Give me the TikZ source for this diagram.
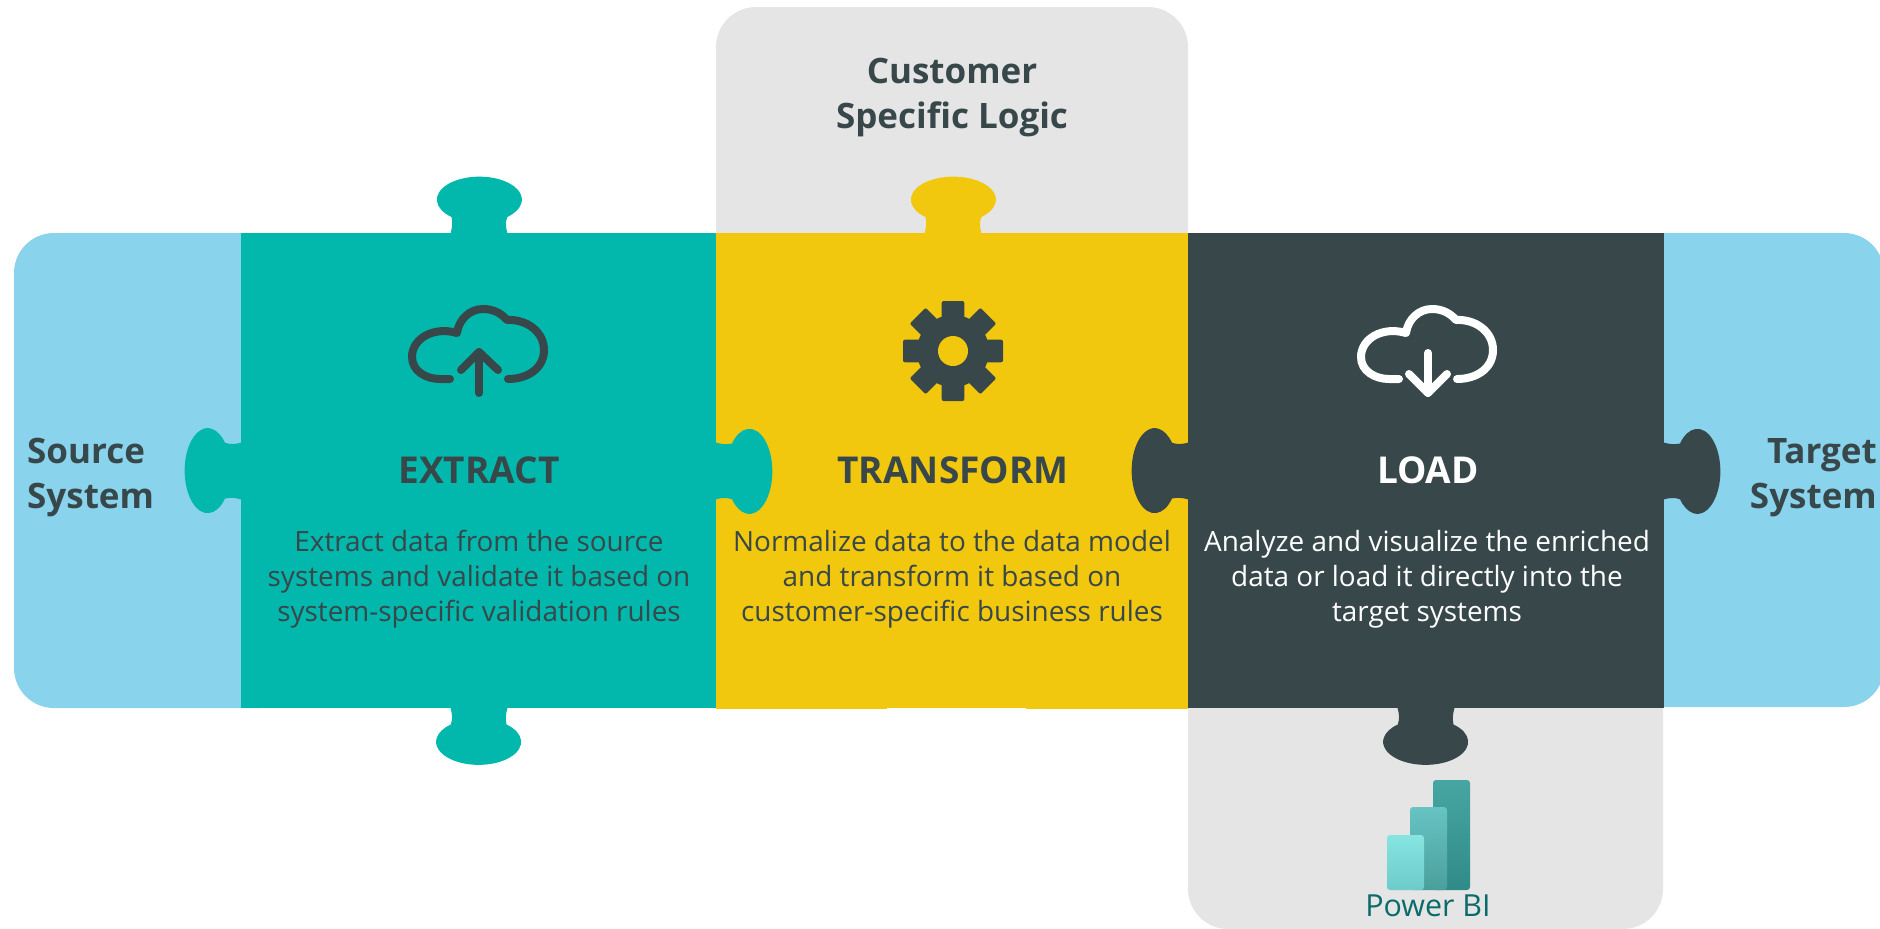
\documentclass[tikz,border=0pt]{standalone}
\usepackage{fontspec}
\setmainfont{Open Sans}
\definecolor{SkyColor}{HTML}{89D3EC}
\definecolor{TealColor}{HTML}{02B8AC}
\definecolor{SunColor}{HTML}{F2C80F}
\definecolor{SlateColor}{HTML}{37474A}
\definecolor{MistColor}{HTML}{E5E5E5}
\definecolor{BiColor}{HTML}{0B6A6A}
\tikzset{heading/.style={font=\fontsize{37}{42}\selectfont\bfseries, text=SlateColor, inner sep=0pt},
sidetext/.style={font=\fontsize{35}{45}\selectfont\bfseries, text=SlateColor, inner sep=0pt},
bodytext/.style={font=\fontsize{27.9}{35}\selectfont, text=SlateColor, align=center, inner sep=0pt},
iconline/.style={line width=8pt, line cap=round, line join=round}}
% base of the knob at (#1,#2), turned by #3, filled with #4
\newcommand{\knob}[4]{
\fill[#4, shift={(#1,#2)}, rotate=#3] (-28.5,0.5) .. controls (-26.5,-6) and (-26.5,-11) .. (-27.5,-16)
  arc[start angle=131, end angle=409, x radius=42.5, y radius=23] .. controls (26.5,-11) and (26.5,-6) .. (28.5,0.5) -- cycle;
}
\newcommand{\cloud}[3]{
\draw[iconline, #3, shift={(#1,#2)}] (30,0) .. controls (50,0) and (66,-11) .. (66,-29)
  .. controls (66,-47) and (49,-60) .. (29,-59) .. controls (23,-66) and (15,-70) .. (5,-70)
  .. controls (-8,-70) and (-19,-60) .. (-21,-46) .. controls (-45,-53) and (-66,-40) .. (-66,-22)
  .. controls (-66,-8) and (-52,0) .. (-38,0) -- (-28,0);
}
\begin{document}
\begin{tikzpicture}[x=1pt,y=-1pt]
\useasboundingbox (0,0) rectangle (1880,929);
\clip (0,0) rectangle (1880,929);

%%Back plates
\fill[MistColor, rounded corners=40pt] (716,7) rectangle (1188,300);
\fill[MistColor, rounded corners=40pt] (1188,640) rectangle (1663,929);
\fill[SkyColor, rounded corners=40pt] (14,233) rectangle (300,708);
\fill[SkyColor, rounded corners=40pt] (1600,233) rectangle (1884,707);

%%Puzzle pieces
\fill[TealColor] (241,232.5) rectangle (716,708);
\fill[SunColor] (716,232.5) rectangle (1188,709);
\fill[SlateColor] (1188,232.5) rectangle (1664,708);
\fill[white] (887,707.7) rectangle (1026,710);

\knob{479}{233}{0}{TealColor}
\knob{479}{708.5}{180}{TealColor}
\knob{241}{471}{90}{TealColor}
\knob{716}{471}{-90}{TealColor}
\knob{953}{233}{0}{SunColor}
\knob{1188}{471}{90}{SlateColor}
\knob{1664}{471}{-90}{SlateColor}
\knob{1426}{708.5}{180}{SlateColor}

%%Icons
\cloud{478}{379}{draw=SlateColor}
\draw[iconline, SlateColor] (479,393) -- (479,352);
\draw[iconline, SlateColor] (461,370) -- (479,352) -- (498,370);

\cloud{1427}{379}{draw=white}
\draw[iconline, white] (1428,353) -- (1428,393);
\draw[iconline, white] (1409,374) -- (1428,393) -- (1447,374);

\begin{scope}[shift={(953,351)}]
\foreach \a in {0,45,...,315}{
\fill[SlateColor, rotate=\a, rounded corners=2pt] (-11.3,-50) rectangle (11.3,0);
}
\fill[SlateColor] (0,0) circle [radius=36];
\fill[SunColor] (0,0) circle [radius=15];
\end{scope}

\definecolor{BackTop}{HTML}{47A6A2}
\definecolor{BackBot}{HTML}{2F8B88}
\definecolor{MidTop}{HTML}{67C4C2}
\definecolor{MidBot}{HTML}{4A9F9C}
\definecolor{FrontTop}{HTML}{86E5E1}
\definecolor{FrontBot}{HTML}{6DCCC9}
\shade[top color=BackTop, bottom color=BackBot, rounded corners=3pt] (1433,780) rectangle (1470,890);
\shade[top color=MidTop, bottom color=MidBot, rounded corners=3pt] (1410,807) rectangle (1447,890);
\shade[top color=FrontTop, bottom color=FrontBot, rounded corners=3pt] (1387,835) rectangle (1424,890);

%%Texts
\node[sidetext, anchor=base west] (source1) at (27,463) {Source};
\node[sidetext, anchor=base west] (source2) at (27,508) {System};
\node[sidetext, anchor=base east] (target1) at (1877,463) {Target};
\node[sidetext, anchor=base east] (target2) at (1877,508) {System};
\node[sidetext, anchor=base] (custom1) at (952,83) {Customer};
\node[sidetext, anchor=base] (custom2) at (952,128) {Specific Logic};

\node[heading, anchor=base] (extract) at (479,483) {EXTRACT};
\node[heading, anchor=base] (transform) at (953,483) {TRANSFORM};
\node[heading, anchor=base, text=white] (load) at (1428,483) {LOAD};

\node[bodytext, anchor=base] (extractbody) at (479,621) {Extract data from the source\\systems and validate it based on\\system-specific validation rules};
\node[bodytext, anchor=base] (transformbody) at (952,621) {Normalize data to the data model\\and transform it based on\\customer-specific business rules};
\node[bodytext, anchor=base, text=white] (loadbody) at (1427,621) {Analyze and visualize the enriched\\data or load it directly into the\\target systems};
\node[font=\fontsize{30.4}{34}\selectfont, text=BiColor, anchor=base, inner sep=0pt] (powerbi) at (1428,916) {Power BI};
\end{tikzpicture}
\end{document}
